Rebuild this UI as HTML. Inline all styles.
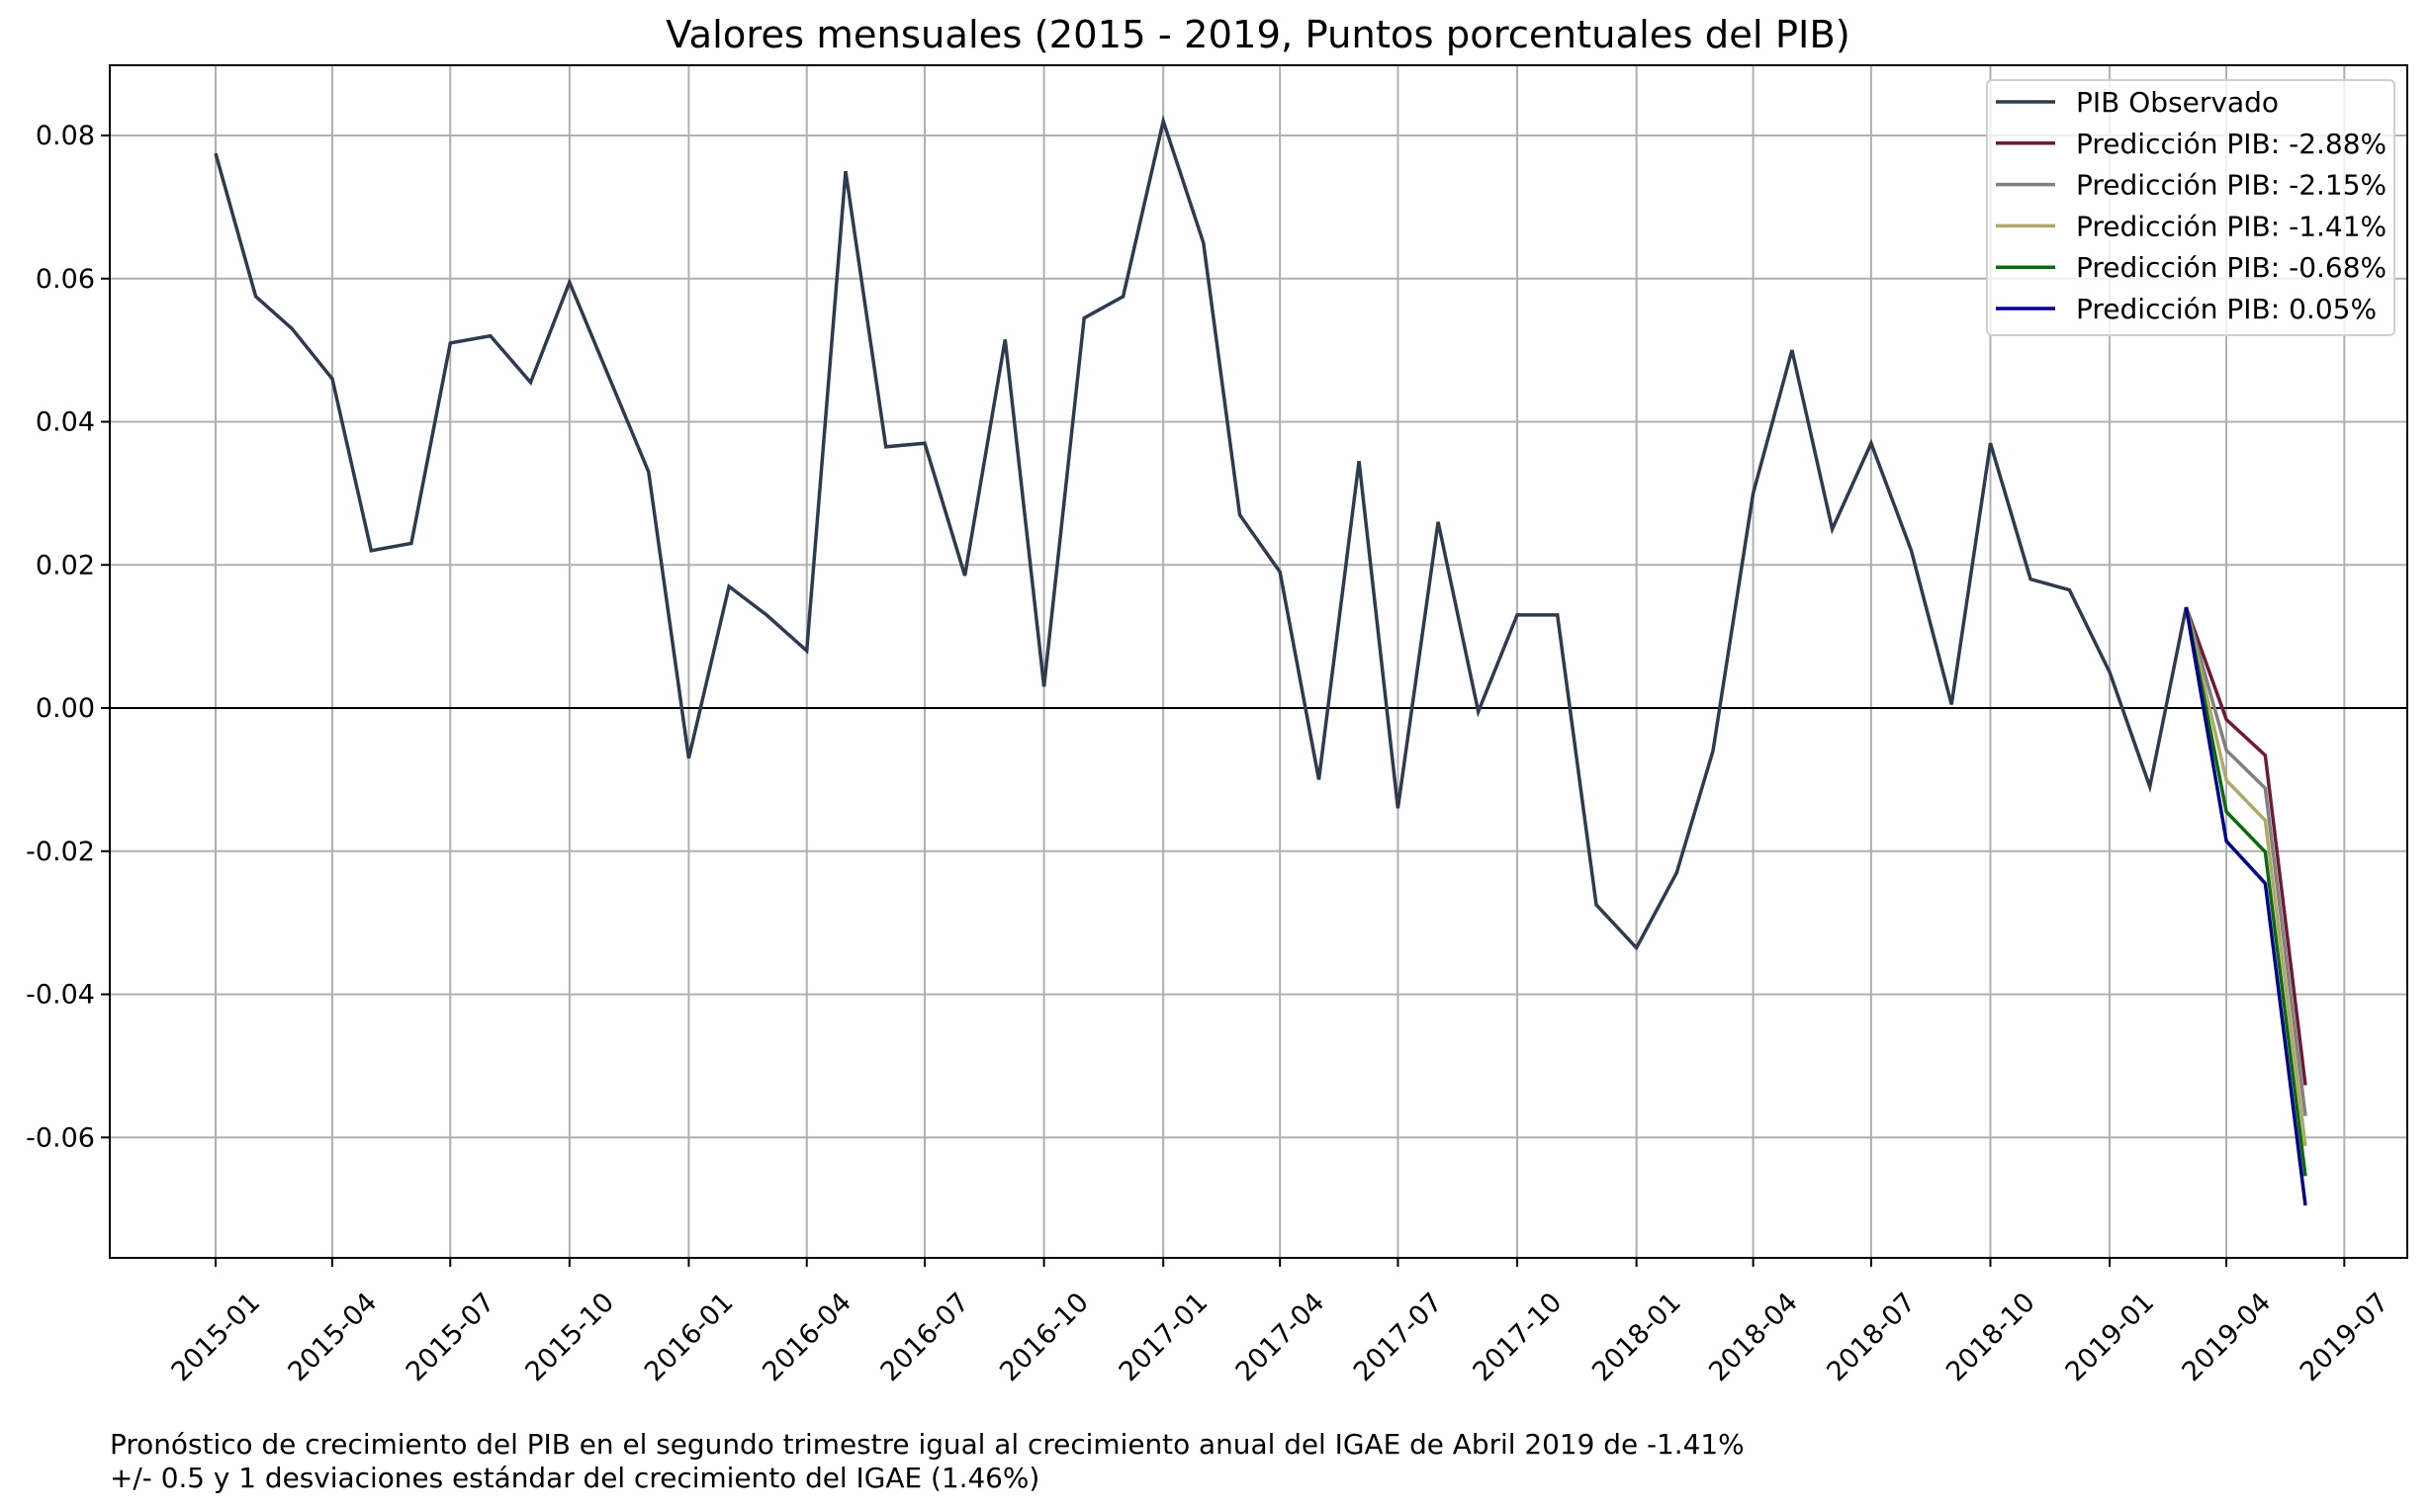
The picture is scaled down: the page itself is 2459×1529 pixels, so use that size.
<!DOCTYPE html>
<html><head><meta charset="utf-8">
<style>
html,body{margin:0;padding:0;background:#fff;}
svg{display:block;font-family:"DejaVu Sans","Liberation Sans",sans-serif;}
</style></head>
<body>
<svg id="chart" width="2459" height="1529" viewBox="0 0 2459 1529" xmlns="http://www.w3.org/2000/svg">
<text x="1272" y="48" font-size="38.5" text-anchor="middle" fill="#000">Valores mensuales (2015 - 2019, Puntos porcentuales del PIB)</text>
<g id="grid"></g>
<g id="series"></g>
<g id="axes"></g>
<g id="legend"></g>
<text x="111" y="1470" font-size="27.9" fill="#000">Pronóstico de crecimiento del PIB en el segundo trimestre igual al crecimiento anual del IGAE de Abril 2019 de -1.41%</text>
<text x="111" y="1504" font-size="27.9" fill="#000">+/- 0.5 y 1 desviaciones estándar del crecimiento del IGAE (1.46%)</text>
</svg>
<script>
const obsStart = [2015, 0];
const observed = [0.0775,0.0575,0.053,0.046,0.022,0.023,0.051,0.052,0.0455,0.0595,0.046,0.033,
 -0.007,0.017,0.013,0.008,0.075,0.0365,0.037,0.0185,0.0515,0.003,0.0545,0.0575,
 0.082,0.065,0.027,0.019,-0.010,0.0345,-0.014,0.026,-0.0005,0.013,0.013,-0.0275,
 -0.0335,-0.023,-0.006,0.030,0.050,0.025,0.037,0.022,0.0005,0.037,0.018,0.0165,
 0.005,-0.011,0.0141];
const predStart = [2019, 2];
const predRed = [0.0141,-0.0016,-0.0066,-0.0527];
const predGray = [0.0141,-0.0059,-0.0112,-0.0570];
const predOlive = [0.0141,-0.0101,-0.0157,-0.0612];
const predGreen = [0.0141,-0.0145,-0.0201,-0.0654];
const predBlue = [0.0141,-0.0186,-0.0245,-0.0695];
const seriesNames = ["PIB Observado","Predicción PIB: -2.88%","Predicción PIB: -2.15%","Predicción PIB: -1.41%","Predicción PIB: -0.68%","Predicción PIB: 0.05%"];
const yTicks = [-0.06,-0.04,-0.02,0.00,0.02,0.04,0.06,0.08];
const xTickLabels = ["2015-01","2015-04","2015-07","2015-10","2016-01","2016-04","2016-07","2016-10","2017-01","2017-04","2017-07","2017-10","2018-01","2018-04","2018-07","2018-10","2019-01","2019-04","2019-07"];

const NS="http://www.w3.org/2000/svg";
const L=111,R=2434,T=66,B=1272;
const base=Date.UTC(2015,0,1);
function xDays(y,m){return (Date.UTC(y,m,1)-base)/86400000;}
function X(d){return 218+1.3108*d;}
function Y(v){return 716-v*7237.5;}
function mk(tag,attrs,parent){const e=document.createElementNS(NS,tag);for(const k in attrs)e.setAttribute(k,attrs[k]);parent.appendChild(e);return e;}
const grid=document.getElementById('grid'),axes=document.getElementById('axes'),ser=document.getElementById('series'),leg=document.getElementById('legend');

yTicks.forEach(v=>{
  const y=Y(v);
  const g=mk('line',{x1:L,x2:R,y1:y,y2:y,stroke:'#b0b0b0','stroke-width':2},grid);
  
  
  const t=mk('line',{x1:L-9,x2:L,y1:y,y2:y,stroke:'#000','stroke-width':2},axes);
  
  
  const tx=mk('text',{x:L-15,y:y+9,'font-size':27,'text-anchor':'end',fill:'#000'},axes);
  tx.textContent=v.toFixed(2);
  
  
});
xTickLabels.forEach(s=>{
  const [yy,mm]=s.split('-').map(Number);
  const x=X(xDays(yy,mm-1));
  const g=mk('line',{x1:x,x2:x,y1:T,y2:B,stroke:'#b0b0b0','stroke-width':2},grid);
  
  
  const t=mk('line',{x1:x,x2:x,y1:B,y2:B+9,stroke:'#000','stroke-width':2},axes);
  
  
  const tx=mk('text',{x:0,y:0,'font-size':27,'text-anchor':'middle',fill:'#000',transform:`translate(${x},1352) rotate(-45) translate(0,9)`},axes);
  tx.textContent=s;
  
  
});
const zl=mk('line',{x1:L,x2:R,y1:Y(0),y2:Y(0),stroke:'#000','stroke-width':2},grid);



function drawSeries(vals,start,color,name){
  const pts=vals.map((v,i)=>{const m=start[1]+i;return X(xDays(start[0]+Math.floor(m/12),m%12)).toFixed(1)+','+Y(v).toFixed(1);}).join(' ');
  const p=mk('polyline',{points:pts,fill:'none',stroke:color,'stroke-width':3.5,'stroke-linejoin':'miter'},ser);
  
  
}
drawSeries(observed,obsStart,'#2e3a4e','observed-gdp-line');
drawSeries(predRed,predStart,'#6e1a33','prediction-minus-2-88-line');
drawSeries(predGray,predStart,'#808080','prediction-minus-2-15-line');
drawSeries(predOlive,predStart,'#b0a868','prediction-minus-1-41-line');
drawSeries(predGreen,predStart,'#0a6b0a','prediction-minus-0-68-line');
drawSeries(predBlue,predStart,'#00008b','prediction-0-05-line');

const fr=mk('rect',{x:L,y:T,width:R-L,height:B-T,fill:'none',stroke:'#000','stroke-width':2},axes);



const lb=mk('rect',{x:2009,y:81,width:412,height:258,rx:5,fill:'rgba(255,255,255,0.8)',stroke:'#d0d0d0','stroke-width':2},leg);


const legColors=['#2e3a4e','#6e1a33','#808080','#b0a868','#0a6b0a','#00008b'];
seriesNames.forEach((n,i)=>{
  const y=103+i*41.8;
  const ln=mk('line',{x1:2018,x2:2078,y1:y,y2:y,stroke:legColors[i],'stroke-width':3.5},leg);
  
  
  const t=mk('text',{x:2099,y:y+10,'font-size':28,fill:'#000'},leg);
  t.textContent=n;
  
  
});
</script>
</body></html>
